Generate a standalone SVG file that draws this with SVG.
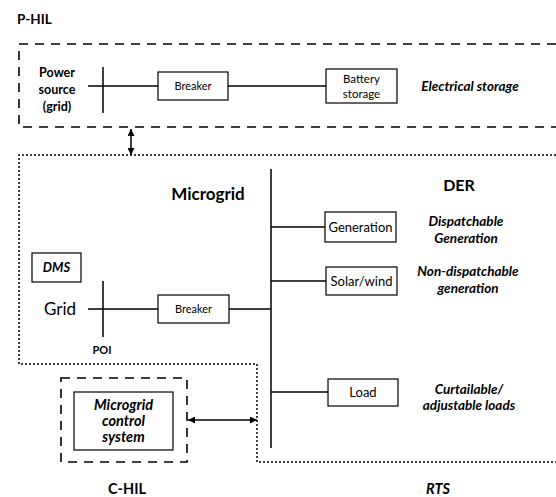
<svg xmlns="http://www.w3.org/2000/svg" width="556" height="497" viewBox="0 0 556 497">
<defs>
<marker id="ah" viewBox="0 0 10 10" refX="10" refY="5" markerWidth="8" markerHeight="7" orient="auto-start-reverse" markerUnits="userSpaceOnUse">
<path d="M0,0 L10,5 L0,10 z" fill="#000"/>
</marker>
<style>
text{font-family:Lato,"Liberation Sans",sans-serif;fill:#000}
.b{font-weight:bold}
.bi{font-weight:bold;font-style:italic}
.lab{font-weight:bold;font-style:italic;font-size:13.5px}
.box{fill:#fff;stroke:#000;stroke-width:1.2}
.ln{stroke:#000;stroke-width:1.5;fill:none}
.dash{stroke:#000;stroke-width:1.6;fill:none;stroke-dasharray:9 7}
.dot{stroke:#000;stroke-width:1.5;fill:none;stroke-dasharray:2 2}
</style>
</defs>
<rect width="556" height="497" fill="#fff"/>

<g id="regions">
<path class="dash" d="M556,44 H19 V127 H556"/>
<path class="dot" d="M556,155 H19 V364 H257 V462 H556"/>
<rect class="dash" x="61" y="378" width="126" height="84"/>
</g>

<g id="labels">
<text class="b" x="17" y="24" font-size="13.5">P-HIL</text>
<text class="b" x="208" y="200" font-size="17" text-anchor="middle">Microgrid</text>
<text class="b" x="459" y="191" font-size="16" text-anchor="middle">DER</text>
<text class="b" x="127" y="494" font-size="14.5" text-anchor="middle">C-HIL</text>
<text class="bi" x="438" y="494" font-size="14.5" text-anchor="middle">RTS</text>
<text class="b" x="57" y="77" font-size="12.5" text-anchor="middle">Power</text>
<text class="b" x="57" y="94" font-size="12.5" text-anchor="middle">source</text>
<text class="b" x="57" y="111" font-size="12.5" text-anchor="middle">(grid)</text>
<text class="lab" x="470" y="91" text-anchor="middle">Electrical storage</text>
<text class="lab" x="466" y="226" text-anchor="middle">Dispatchable</text>
<text class="lab" x="466" y="243" text-anchor="middle">Generation</text>
<text class="lab" x="468" y="276" text-anchor="middle">Non-dispatchable</text>
<text class="lab" x="468" y="293" text-anchor="middle">generation</text>
<text class="lab" x="469" y="394" text-anchor="middle">Curtailable/</text>
<text class="lab" x="469" y="410" text-anchor="middle">adjustable loads</text>
<text x="60" y="315" font-size="17" text-anchor="middle">Grid</text>
<text class="b" x="102" y="354" font-size="11" text-anchor="middle">POI</text>
</g>

<g id="connectors">
<line class="ln" x1="103" y1="67" x2="103" y2="113"/>
<line class="ln" x1="88" y1="86" x2="326" y2="86"/>
<line class="ln" x1="271" y1="169" x2="271" y2="448"/>
<line class="ln" x1="103" y1="281" x2="103" y2="337"/>
<line class="ln" x1="88" y1="309" x2="271" y2="309"/>
<line class="ln" x1="271" y1="227" x2="325" y2="227"/>
<line class="ln" x1="271" y1="281" x2="326" y2="281"/>
<line class="ln" x1="271" y1="392" x2="328" y2="392"/>
<line class="ln" x1="131" y1="129" x2="131" y2="155" marker-start="url(#ah)" marker-end="url(#ah)"/>
<line class="ln" x1="188" y1="420" x2="257" y2="420" marker-start="url(#ah)" marker-end="url(#ah)"/>
</g>

<g id="breaker1">
<rect class="box" x="158" y="72" width="70" height="28"/>
<text x="193" y="90" font-size="11" text-anchor="middle">Breaker</text>
</g>
<g id="battery">
<rect class="box" x="326" y="69" width="71" height="34"/>
<text x="361.5" y="83" font-size="11.5" text-anchor="middle">Battery</text>
<text x="361.5" y="98" font-size="11.5" text-anchor="middle">storage</text>
</g>
<g id="dms">
<rect class="box" x="32" y="253" width="49" height="29"/>
<text class="bi" x="56.5" y="272" font-size="13" text-anchor="middle">DMS</text>
</g>
<g id="breaker2">
<rect class="box" x="158" y="295" width="71" height="28"/>
<text x="193.5" y="313" font-size="11" text-anchor="middle">Breaker</text>
</g>
<g id="generation">
<rect class="box" x="325" y="212" width="71" height="30"/>
<text x="360.5" y="231.5" font-size="13" text-anchor="middle">Generation</text>
</g>
<g id="solarwind">
<rect class="box" x="326" y="267" width="71" height="28"/>
<text x="361.5" y="285.5" font-size="13" text-anchor="middle">Solar/wind</text>
</g>
<g id="load">
<rect class="box" x="328" y="379" width="70" height="27"/>
<text x="363" y="397" font-size="13" text-anchor="middle">Load</text>
</g>
<g id="mcs">
<rect class="box" x="74" y="392" width="99" height="58"/>
<text class="bi" x="123.5" y="410" font-size="14.5" text-anchor="middle">Microgrid</text>
<text class="bi" x="123.5" y="426" font-size="14.5" text-anchor="middle">control</text>
<text class="bi" x="123.5" y="442" font-size="14.5" text-anchor="middle">system</text>
</g>
</svg>
